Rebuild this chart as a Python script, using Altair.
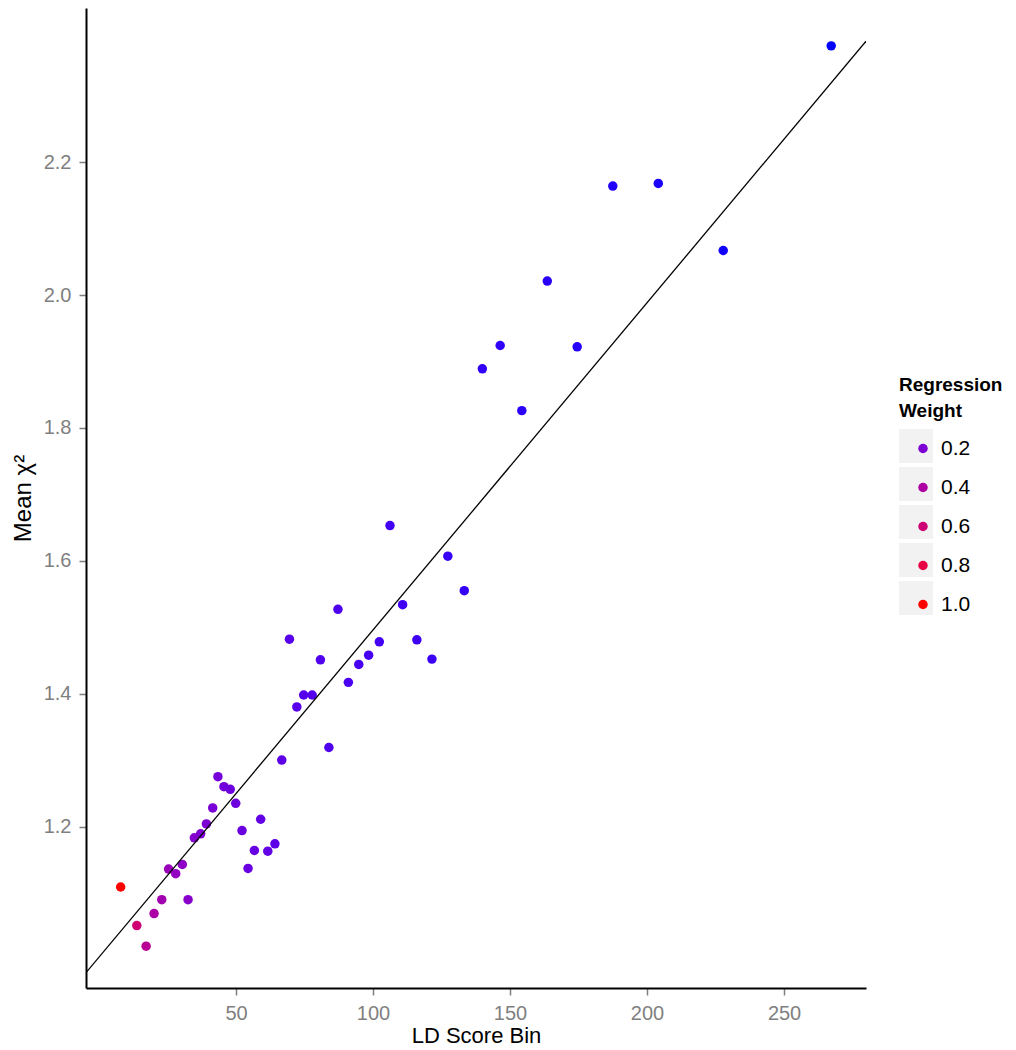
import altair as alt
import pandas as pd

# ---- data ----
ld_score = [7.9, 13.8, 17.2, 20.1, 22.9, 32.5, 25.4, 28.0, 30.4, 34.8,
            37.1, 39.2, 41.5, 43.4, 45.6, 47.9, 49.9, 52.2, 54.4, 56.7,
            59.0, 61.6, 64.2, 66.7, 69.5, 72.2, 74.7, 77.8, 80.8, 83.9,
            87.2, 91.0, 94.8, 98.4, 102.3, 106.2, 110.8, 116.0, 121.5, 127.3,
            133.3, 139.9, 146.4, 154.3, 163.6, 174.5, 187.5, 204.1, 227.8, 267.2]
mean_chi2 = [1.109, 1.051, 1.020, 1.069, 1.090, 1.090, 1.136, 1.129, 1.143, 1.183,
             1.189, 1.204, 1.228, 1.275, 1.260, 1.256, 1.235, 1.194, 1.137, 1.164,
             1.211, 1.163, 1.174, 1.300, 1.482, 1.380, 1.398, 1.398, 1.451, 1.319,
             1.527, 1.417, 1.444, 1.458, 1.478, 1.653, 1.534, 1.481, 1.452, 1.607,
             1.555, 1.889, 1.924, 1.826, 2.021, 1.922, 2.164, 2.168, 2.067, 2.375]
weight = [1.00, 0.60, 0.46, 0.39, 0.34, 0.24, 0.31, 0.28, 0.26, 0.23,
          0.21, 0.20, 0.19, 0.18, 0.17, 0.16, 0.16, 0.15, 0.145, 0.14,
          0.13, 0.13, 0.12, 0.12, 0.11, 0.11, 0.105, 0.10, 0.098, 0.094,
          0.09, 0.087, 0.083, 0.08, 0.077, 0.074, 0.071, 0.068, 0.065, 0.062,
          0.059, 0.056, 0.054, 0.051, 0.048, 0.045, 0.042, 0.039, 0.035, 0.030]

legend_values = [0.2, 0.4, 0.6, 0.8, 1.0]
legend_labels = ["0.2", "0.4", "0.6", "0.8", "1.0"]
x_ticks = [50, 100, 150, 200, 250]
y_ticks = [1.2, 1.4, 1.6, 1.8, 2.0, 2.2]
x_domain = [-4.74, 279.9]
y_domain = [0.957, 2.432]
reg_intercept = 1.0034
reg_slope = 0.004925

FONT = "Liberation Sans"

df = pd.DataFrame({"ld": ld_score, "chi2": mean_chi2, "w": weight})
line_df = pd.DataFrame({"ld": x_domain,
                        "chi2": [reg_intercept + reg_slope * v for v in x_domain]})
legend_df = pd.DataFrame({"lab": legend_labels})

x_enc = alt.X("ld:Q",
              scale=alt.Scale(domain=x_domain, nice=False, zero=False),
              axis=alt.Axis(values=x_ticks, title="LD Score Bin", tickSize=7,
                            labelPadding=8, titlePadding=2))
y_enc = alt.Y("chi2:Q",
              scale=alt.Scale(domain=y_domain, nice=False, zero=False),
              axis=alt.Axis(values=y_ticks, format=".1f", title="Mean χ²",
                            tickSize=7, labelPadding=8, titlePadding=8,
                            titleFontSize=24))

points = alt.Chart(df).mark_circle(size=90, opacity=1).encode(
    x=x_enc,
    y=y_enc,
    color=alt.Color(
        "w:Q",
        scale=alt.Scale(domain=[min(weight), max(weight)],
                        range=["#0000ff", "#ff0000"], interpolate="lab"),
        legend=alt.Legend(type="symbol", values=legend_values, format=".1f",
                          title=None, orient="none", legendX=826.5, legendY=430,
                          symbolType="circle", symbolSize=90, symbolStrokeWidth=0,
                          labelFontSize=21, labelColor="black", labelFont=FONT,
                          labelOffset=7.5, rowPadding=17, padding=0, zindex=1),
    ),
)

reg_line = alt.Chart(line_df).mark_line(color="black", strokeWidth=1.3, clip=True).encode(
    x="ld:Q", y="chi2:Q"
)

legend_boxes = alt.Chart(legend_df).mark_point(
    filled=True, color="#f2f2f2", opacity=1
).encode(
    shape=alt.Shape(
        "lab:N",
        scale=alt.Scale(domain=legend_labels, range=["square"]),
        legend=alt.Legend(title=["Regression", "Weight"], orient="none",
                          legendX=813, legendY=368, symbolSize=1156,
                          symbolStrokeWidth=0, symbolFillColor="#f2f2f2",
                          labelExpr="''", labelFontSize=1, rowPadding=4,
                          titleFontSize=19, titleFontWeight="bold",
                          titleColor="black", titleFont=FONT, titleLineHeight=26,
                          titlePadding=8, padding=0, zindex=0),
    )
).transform_filter("false")

chart = alt.layer(points, reg_line, legend_boxes).properties(
    width=780, height=980,
    padding={"left": 3, "top": 0, "right": 0, "bottom": 0}
).configure_view(stroke=None).configure_axis(
    grid=False,
    domainColor="black",
    domainWidth=2,
    tickColor="#7f7f7f",
    tickWidth=1.5,
    labelColor="#7f7f7f",
    labelFont=FONT,
    labelFontSize=20,
    titleFont=FONT,
    titleFontSize=22,
    titleFontWeight="normal",
    titleColor="black",
)

chart.save("out.html", embed_options={"renderer": "svg", "actions": False})
